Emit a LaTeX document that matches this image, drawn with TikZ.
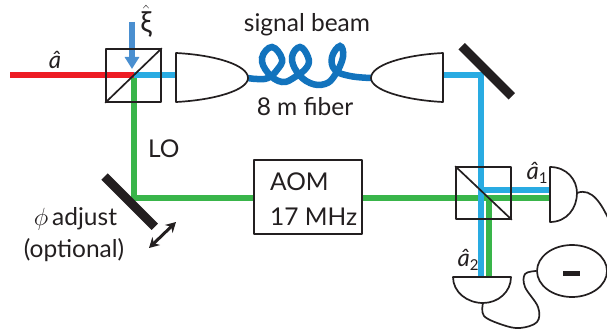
\documentclass[tikz,border=0pt]{standalone}
\usepackage{fontspec}
\setmainfont{Lato}
\usetikzlibrary{shapes.geometric,arrows.meta}
\definecolor{ink}{HTML}{231F20}
\definecolor{redbeam}{HTML}{ED1C24}
\definecolor{bluebeam}{HTML}{29ABE2}
\definecolor{greenbeam}{HTML}{39B54A}
\definecolor{noise}{HTML}{4A8FD0}
\definecolor{fibre}{HTML}{1273BD}
\newcommand{\hatsub}[1]{\raisebox{-4pt}{\fontsize{15}{18}\selectfont #1}}
\tikzset{
  beam/.style={line width=6.5pt,line cap=butt,line join=miter},
  outline/.style={draw=ink,line width=1.7pt,line join=round},
  splitter/.style={outline,rectangle,inner sep=0pt,minimum width=55pt,minimum height=53pt},
  mirror/.style={fill=ink,rectangle,inner sep=0pt,minimum width=71pt,minimum height=9pt,rotate=-45},
  wire/.style={draw=ink,line width=1.7pt},
  lbl/.style={text=ink,font=\fontsize{24.5}{29}\selectfont,inner sep=0pt},
  mathlbl/.style={text=ink,font=\fontsize{24}{28}\selectfont,inner sep=0pt}
}
\begin{document}
\begin{tikzpicture}[x=1pt,y=-1pt]
\useasboundingbox (0,0) rectangle (607,329);
% anchors
\coordinate (redstart) at (10,75);
\coordinate (bsonecentre) at (133.5,75);
\coordinate (llensflat) at (176,75);
\coordinate (ltip) at (248,78);
\coordinate (rtip) at (371,78);
\coordinate (rlensflat) at (444,75);
\coordinate (mirroronehit) at (481,75);
\coordinate (bluedown) at (481,277);
\coordinate (greenv) at (134,198);
\coordinate (greenvtop) at (134,78);
\coordinate (dethitb) at (550,190);
\coordinate (bluehstart) at (484,190);
\coordinate (dethitg) at (550,198);
\coordinate (greenturn) at (489,198);
\coordinate (greendown) at (489,277);
\coordinate (noisestart) at (132,22);
\coordinate (noiseend) at (132,69);
\coordinate (adjA) at (149,248);
\coordinate (adjB) at (176,222);
% beams
\draw[beam,greenbeam] (greenvtop) -- (greenv) -- (dethitg);
\draw[beam,greenbeam] (greenturn) -- (greendown);
\draw[beam,redbeam] (redstart) -- (bsonecentre);
\draw[beam,bluebeam] (bsonecentre) -- (llensflat);
\draw[beam,bluebeam] (rlensflat) -- (mirroronehit) -- (bluedown);
\draw[beam,bluebeam] (bluehstart) -- (dethitb);
% noise arrow
\draw[line width=6.5pt,noise,-{Triangle[length=12pt,width=14pt]}] (noisestart) -- (noiseend);
% fibre
\draw[fibre,line width=6.5pt,line cap=round] plot[smooth,tension=0.7] coordinates {(ltip) (257,79) (268,78) (277,70) (282,59) (272,47) (262,58) (268,73) (282,82) (295,77) (307,67) (308,57) (300,47) (292,57) (297,72) (310,83) (325,84) (335,75) (343,57) (340,46) (332,57) (335,70) (350,76) (rtip)};
% splitters
\node[splitter] (bsone) at (133.5,75.5) {};
\draw[outline] (bsone.south west) -- (bsone.north east);
\node[splitter,minimum height=52pt] (bstwo) at (483.5,193) {};
\draw[outline] (bstwo.north west) -- (bstwo.south east);
% lenses
\draw[outline,fill=white] (176,53) .. controls (215,55) and (248,65) .. (ltip) .. controls (248,90) and (215,100) .. (176,102) -- cycle;
\draw[outline,fill=white] (443,53) .. controls (404,55) and (371,65) .. (rtip) .. controls (371,90) and (404,100) .. (443,102) -- cycle;
% mirrors
\node[mirror] (mirrorone) at (486.7,71.3) {};
\node[mirror] (mirrortwo) at (129.7,201.7) {};
\draw[ink,line width=3pt,{Stealth[length=10pt,width=11pt]}-{Stealth[length=10pt,width=11pt]}] (adjA) -- (adjB);
% AOM
\node[outline,rectangle,fill=white,inner sep=0pt,minimum width=108pt,minimum height=74pt] (aom) at (308,197) {};
\node[lbl,anchor=base west] (aomone) at (270,190) {AOM};
\node[lbl,anchor=base west] (aomtwo) at (270,225) {17 MHz};
% detectors
\coordinate (donetip) at (577,193);
\coordinate (dtwotip) at (483,303);
\draw[outline] (550,167) .. controls (567,167) and (577,180) .. (donetip) .. controls (577,208) and (567,222) .. (550,222) -- cycle;
\draw[outline] (453,277) .. controls (453,292) and (467,303) .. (dtwotip) .. controls (498,303) and (511,292) .. (511,277) -- cycle;
\node[ellipse,draw=ink,line width=1.7pt,inner sep=0pt,minimum width=70pt,minimum height=52pt] (sub) at (572,271) {};
\node[fill=ink,rectangle,inner sep=0pt,minimum width=17pt,minimum height=5pt] (minus) at (571.5,273.5) {};
\coordinate (wireoff) at (609,220);
\draw[wire] (donetip) .. controls (592,187) and (602,205) .. (wireoff);
\draw[wire] plot[smooth,tension=0.6] coordinates {(dtwotip) (484,316) (503,325) (520,328) (537,322) (538,307) (525,287) (525,274) (sub.west)};
% labels
\node[lbl] (sig) at (307,25) {signal beam};
\node[lbl] (fib) at (305,107) {8 m fiber};
\node[lbl,anchor=base west] (lo) at (148,157) {LO};
\node[lbl,anchor=base west] (adj) at (52,225) {adjust};
\node[mathlbl,anchor=base] (phi) at (41,225) {$\phi$};
\node[lbl,anchor=base] (opt) at (74,257) {(optional)};
\node[mathlbl,anchor=base] (ahat) at (55,68) {\itshape â};
\node[mathlbl,anchor=base,font=\fontsize{29}{32}\selectfont] (xihat) at (146,33) {$\hat{\mbox{ξ}}$};
\node[mathlbl,anchor=base] (aone) at (537,179) {{\itshape â}\hatsub{1}};
\node[mathlbl,anchor=base] (atwo) at (468,266) {{\itshape â}\hatsub{2}};
\end{tikzpicture}
\end{document}
